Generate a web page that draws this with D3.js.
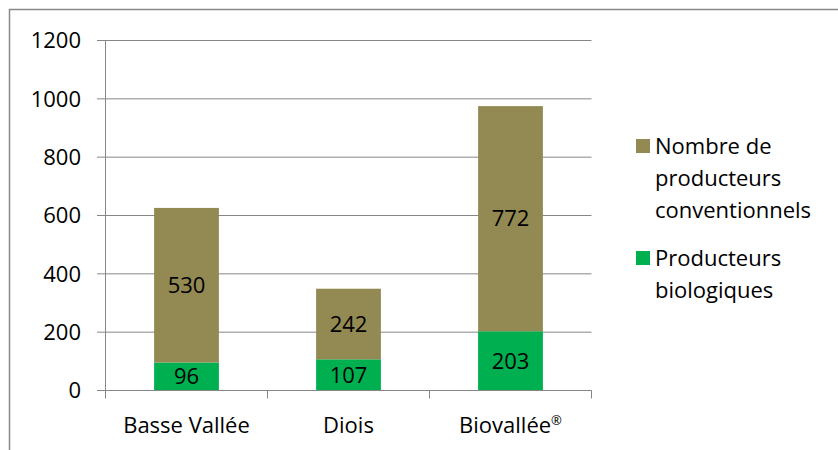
<!DOCTYPE html>
<html>
<head>
<meta charset="utf-8">
<script src="https://cdn.jsdelivr.net/npm/d3@7"></script>
<style>
  body { margin: 0; background: #fff; }
  svg { font-family: "Open Sans", "Liberation Sans", sans-serif; }
</style>
</head>
<body>
<svg width="838" height="450"></svg>
<script>
/* ===============================
   Data
   =============================== */
let categories = ["Basse Vallée", "Diois", "Biovallée®"];
let bioValues = [96, 107, 203];
let convValues = [530, 242, 772];
let yTicks = [0, 200, 400, 600, 800, 1000, 1200];
let seriesNames = ["Nombre de producteurs conventionnels", "Producteurs biologiques"];

let convColor = "#938953";
let bioColor = "#00B050";
let gridColor = "#868686";
let fontSize = 22;

/* ===============================
   Select SVG + frame
   =============================== */
let svg = d3.select("svg");

svg.append("rect")
    .attr("x", 9.5)
    .attr("y", 9.5)
    .attr("width", 840)
    .attr("height", 460)
    .attr("fill", "none")
    .attr("stroke", "#888888")
    .attr("stroke-width", 1.5);

/* ===============================
   Scales
   =============================== */
let x = d3.scaleBand()
    .domain(categories)
    .range([105.5, 591.5])
    .paddingInner(0.6)
    .paddingOuter(0.3);

let y = d3.scaleLinear()
    .domain([0, 1200])
    .range([390.5, 40.5]);

/* ===============================
   Gridlines
   =============================== */
svg.append("g")
    .selectAll("line")
    .data(yTicks)
    .join("line")
    .attr("x1", 97)
    .attr("x2", 591.5)
    .attr("y1", d => y(d))
    .attr("y2", d => y(d))
    .attr("stroke", gridColor)
    .attr("stroke-width", 1);

/* ===============================
   Stacked bars
   =============================== */
let rows = categories.map((c, i) => ({ cat: c, bio: bioValues[i], conv: convValues[i] }));
let stack = d3.stack().keys(["bio", "conv"])(rows);
let colors = { bio: bioColor, conv: convColor };

let layers = svg.append("g")
    .selectAll("g")
    .data(stack)
    .join("g")
    .attr("fill", d => colors[d.key]);

layers.selectAll("rect")
    .data(d => d)
    .join("rect")
    .attr("x", d => x(d.data.cat))
    .attr("width", x.bandwidth())
    .attr("y", d => y(d[1]))
    .attr("height", d => y(d[0]) - y(d[1]));

layers.selectAll("text")
    .data(d => d)
    .join("text")
    .attr("x", d => x(d.data.cat) + x.bandwidth() / 2)
    .attr("y", d => (y(d[0]) + y(d[1])) / 2)
    .attr("dy", "0.35em")
    .attr("text-anchor", "middle")
    .attr("fill", "#000")
    .attr("font-size", fontSize)
    .text(d => d[1] - d[0]);

/* ===============================
   Axes
   =============================== */
let axisColor = gridColor;

// y axis line
svg.append("line")
    .attr("x1", 105.5).attr("x2", 105.5)
    .attr("y1", y(1200)).attr("y2", y(0))
    .attr("stroke", axisColor);

// x axis line + ticks
svg.append("line")
    .attr("x1", 97).attr("x2", 591.5)
    .attr("y1", y(0)).attr("y2", y(0))
    .attr("stroke", axisColor);

let xTickPos = [105.5].concat(categories.map(c => x(c) + x.bandwidth() / 2 + x.step() / 2));
svg.append("g")
    .selectAll("line")
    .data(xTickPos)
    .join("line")
    .attr("x1", d => d).attr("x2", d => d)
    .attr("y1", y(0)).attr("y2", y(0) + 8)
    .attr("stroke", axisColor);

// y tick labels
svg.append("g")
    .selectAll("text")
    .data(yTicks)
    .join("text")
    .attr("x", 81)
    .attr("y", d => y(d))
    .attr("dy", "0.35em")
    .attr("text-anchor", "end")
    .attr("font-size", fontSize)
    .text(d => d);

// x labels (the ® sign is set as a small superscript)
let xLabels = svg.append("g")
    .selectAll("text")
    .data(categories)
    .join("text")
    .attr("x", d => x(d) + x.bandwidth() / 2)
    .attr("y", 433)
    .attr("text-anchor", "middle")
    .attr("font-size", fontSize);

xLabels.append("tspan")
    .text(d => d.replace("®", ""));

xLabels.filter(d => d.includes("®"))
    .append("tspan")
    .attr("font-size", 13)
    .attr("dy", -8)
    .text("®");

/* ===============================
   Legend
   =============================== */
let legendItems = [
    { color: convColor, lines: ["Nombre de", "producteurs", "conventionnels"], top: 146 },
    { color: bioColor, lines: ["Producteurs", "biologiques"], top: 258 }
];

legendItems.forEach(item => {
    svg.append("rect")
        .attr("x", 636)
        .attr("y", item.top - 7)
        .attr("width", 14)
        .attr("height", 14)
        .attr("fill", item.color);
    svg.append("text")
        .attr("font-size", fontSize)
        .selectAll("tspan")
        .data(item.lines)
        .join("tspan")
        .attr("x", 655)
        .attr("y", (d, i) => item.top + i * 32)
        .attr("dy", "0.35em")
        .text(d => d);
});
</script>
</body>
</html>
